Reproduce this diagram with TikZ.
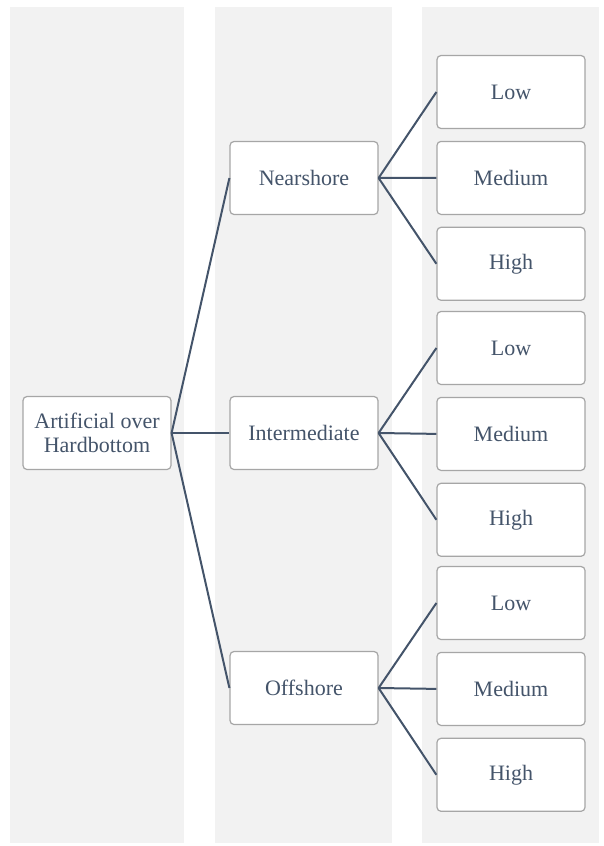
\documentclass[tikz,border=0pt]{standalone}
\usepackage{fontspec}
\setmainfont{Liberation Serif}
\usepackage{tikz}
\usetikzlibrary{positioning}
\definecolor{slate}{HTML}{44546A}
\definecolor{lane}{HTML}{F2F2F2}
\definecolor{edge}{HTML}{A6A6A6}

\begin{document}
\begin{tikzpicture}[x=1pt, y=-1pt,
    block/.style={rectangle, draw=edge, line width=1.2pt, rounded corners=4pt, fill=white, text=slate,
      minimum width=148pt, minimum height=73pt, align=center, font=\fontsize{22}{24}\selectfont},
    link/.style={draw=slate, line width=2pt}]

    \useasboundingbox (0,0) rectangle (604,846);
    % lanes
    \fill[lane] (10,7) rectangle (184,843);
    \fill[lane] (215,7) rectangle (392,843);
    \fill[lane] (422,7) rectangle (599,843);

    \node[block] (root) at (97,433) {Artificial over\\Hardbottom};

    \node[block] (near) at (304,178) {Nearshore};
    \node[block] (inter) at (304,433) {Intermediate};
    \node[block] (off) at (304,688) {Offshore};

    \node[block] (nlow) at (511,92) {Low};
    \node[block, below=11.7pt of nlow] (nmed) {Medium};
    \node[block, below=11.7pt of nmed] (nhigh) {High};
    \node[block] (ilow) at (511,348) {Low};
    \node[block, below=11.7pt of ilow] (imed) {Medium};
    \node[block, below=11.7pt of imed] (ihigh) {High};
    \node[block] (olow) at (511,603) {Low};
    \node[block, below=11.7pt of olow] (omed) {Medium};
    \node[block, below=11.7pt of omed] (ohigh) {High};

    \draw[link] (root.east) -- (near.west);
    \draw[link] (root.east) -- (inter.west);
    \draw[link] (root.east) -- (off.west);
    \draw[link] (near.east) -- (nlow.west);
    \draw[link] (near.east) -- (nmed.west);
    \draw[link] (near.east) -- (nhigh.west);
    \draw[link] (inter.east) -- (ilow.west);
    \draw[link] (inter.east) -- (imed.west);
    \draw[link] (inter.east) -- (ihigh.west);
    \draw[link] (off.east) -- (olow.west);
    \draw[link] (off.east) -- (omed.west);
    \draw[link] (off.east) -- (ohigh.west);
\end{tikzpicture}
\end{document}
